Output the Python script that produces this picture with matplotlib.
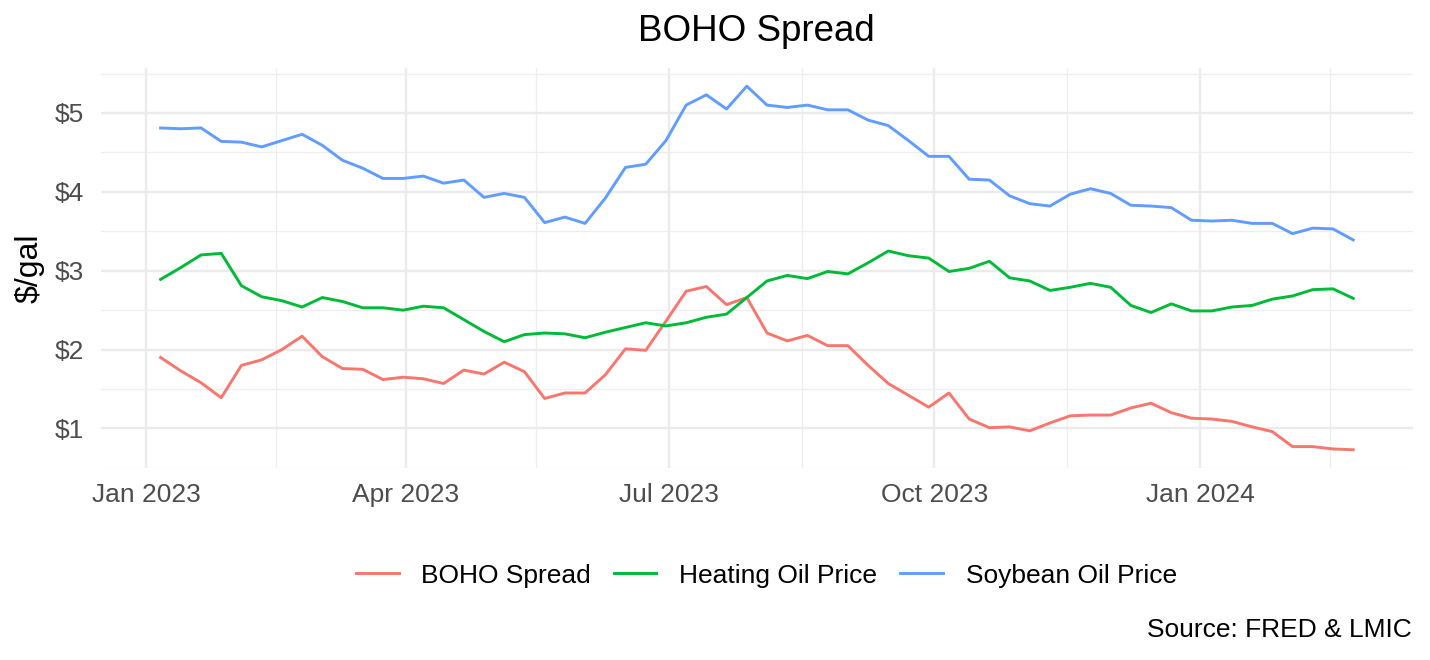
import matplotlib.pyplot as plt
import matplotlib.dates as mdates
import matplotlib.ticker as mticker
import numpy as np
import pandas as pd

# weekly data, Jan 6 2023 -> Feb 23 2024
dates = pd.date_range("2023-01-06", periods=60, freq="7D")

soybean = [4.81, 4.80, 4.81, 4.64, 4.63, 4.57, 4.65, 4.73, 4.59, 4.40,
           4.30, 4.17, 4.17, 4.20, 4.11, 4.15, 3.93, 3.98, 3.93, 3.61,
           3.68, 3.60, 3.92, 4.31, 4.35, 4.65, 5.10, 5.23, 5.05, 5.34,
           5.10, 5.07, 5.10, 5.04, 5.04, 4.91, 4.84, 4.65, 4.45, 4.45,
           4.16, 4.15, 3.95, 3.85, 3.82, 3.97, 4.04, 3.98, 3.83, 3.82,
           3.80, 3.64, 3.63, 3.64, 3.60, 3.60, 3.47, 3.54, 3.53, 3.39]

heating = [2.89, 3.04, 3.20, 3.22, 2.81, 2.67, 2.62, 2.54, 2.66, 2.61,
           2.53, 2.53, 2.50, 2.55, 2.53, 2.38, 2.23, 2.10, 2.19, 2.21,
           2.20, 2.15, 2.22, 2.28, 2.34, 2.30, 2.34, 2.41, 2.45, 2.66,
           2.87, 2.94, 2.90, 2.99, 2.96, 3.10, 3.25, 3.19, 3.16, 2.99,
           3.03, 3.12, 2.91, 2.87, 2.75, 2.79, 2.84, 2.79, 2.56, 2.47,
           2.58, 2.49, 2.49, 2.54, 2.56, 2.64, 2.68, 2.76, 2.77, 2.65]

spread = [1.90, 1.73, 1.58, 1.39, 1.80, 1.87, 2.00, 2.17, 1.91, 1.76,
          1.75, 1.62, 1.65, 1.63, 1.57, 1.74, 1.69, 1.84, 1.72, 1.38,
          1.45, 1.45, 1.68, 2.01, 1.99, 2.36, 2.74, 2.80, 2.57, 2.66,
          2.21, 2.11, 2.18, 2.05, 2.05, 1.80, 1.57, 1.42, 1.27, 1.45,
          1.12, 1.01, 1.02, 0.97, 1.07, 1.16, 1.17, 1.17, 1.26, 1.32,
          1.20, 1.13, 1.12, 1.09, 1.02, 0.96, 0.77, 0.77, 0.74, 0.73]

labels = ["BOHO Spread", "Heating Oil Price", "Soybean Oil Price"]
colors = ["#F8766D", "#00BA38", "#619CFF"]

plt.rcParams["font.family"] = ["Liberation Sans", "DejaVu Sans"]

fig = plt.figure(figsize=(14.3, 6.6), dpi=100)
ax = fig.add_axes([0.0706, 0.291, 0.9174, 0.606])

for y, lab, c in zip([spread, heating, soybean], labels, colors):
    ax.plot(dates, y, color=c, lw=2.1, label=lab)

# gridlines like theme_minimal
major_x = pd.to_datetime(["2023-01-01", "2023-04-01", "2023-07-01", "2023-10-01", "2024-01-01"])
minor_x = pd.to_datetime(["2023-02-15", "2023-05-16", "2023-08-16", "2023-11-16", "2024-02-15"])
ax.set_xticks(major_x)
ax.set_xticks(minor_x, minor=True)
ax.xaxis.set_major_formatter(mdates.DateFormatter("%b %Y"))

ax.set_yticks([1, 2, 3, 4, 5])
ax.set_yticks([0.5, 1.5, 2.5, 3.5, 4.5, 5.5], minor=True)
ax.yaxis.set_major_formatter(mticker.FuncFormatter(lambda v, p: "$%d" % v))

ax.grid(which="major", color="#EBEBEB", lw=1.7)
ax.grid(which="minor", color="#EEEEEE", lw=0.9)
ax.set_axisbelow(True)

span = dates[-1] - dates[0]
ax.set_xlim(dates[0] - span * 0.05, dates[-1] + span * 0.05)
lo, hi = min(spread), max(soybean)
ax.set_ylim(lo - (hi - lo) * 0.05, hi + (hi - lo) * 0.05)

for s in ax.spines.values():
    s.set_visible(False)
ax.tick_params(which="both", length=0)
ax.tick_params(axis="y", labelsize=19, labelcolor="#4D4D4D", pad=12)
ax.tick_params(axis="x", labelsize=19, labelcolor="#4D4D4D", pad=11)

ax.set_ylabel("$/gal", fontsize=23)
ax.yaxis.set_label_coords(-0.043, 0.5)
fig.text(0.529, 0.953, "BOHO Spread", fontsize=26.5, ha="center", va="center")

fig.legend(loc="center", bbox_to_anchor=(0.536, 0.128), ncol=3, frameon=False,
           fontsize=19, handlelength=1.6, handletextpad=0.87, columnspacing=0.87)

fig.text(0.9874, 0.045, "Source: FRED & LMIC", fontsize=19, ha="right", va="center")

plt.savefig("out.png", dpi=100)
